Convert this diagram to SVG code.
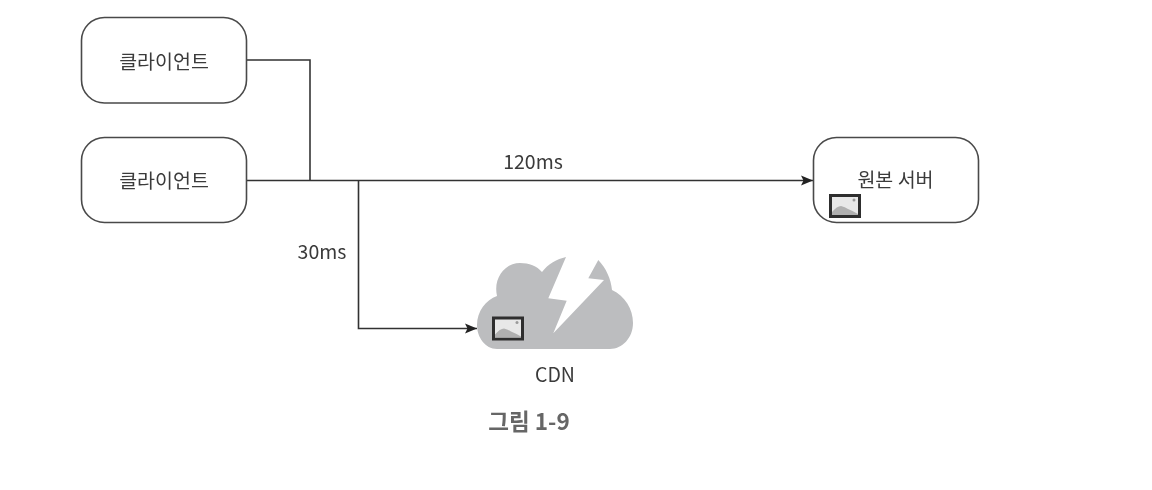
<svg xmlns="http://www.w3.org/2000/svg" width="1152" height="490" viewBox="0 0 1152 490">
<style>
.box{fill:#fff;stroke:#4a4a4a;stroke-width:1.6}
.wire{fill:none;stroke:#333;stroke-width:1.6}
text{font-family:"Noto Sans CJK KR","Noto Sans",sans-serif;fill:#3a3a3a;font-size:19.500px;text-anchor:middle}
.frame{fill:#e8e8e8;stroke:#2e2e2e;stroke-width:3}
.hill{fill:#b0b0b0}
.dot{fill:#9a9a9a}
</style>
<defs>
<marker id="arrow" markerUnits="userSpaceOnUse" markerWidth="13" markerHeight="11" refX="12" refY="5.500" orient="auto"><path d="M0,0.500 L12,5.500 L0,10.500 L2.500,5.500Z" fill="#222"/></marker>
<filter id="soft" x="-2%" y="-2%" width="104%" height="104%"><feGaussianBlur stdDeviation="0.45"/></filter>
<symbol id="pic" viewBox="0 0 32 24" overflow="visible">
<rect class="frame" x="1.500" y="1.500" width="29" height="21"/>
<path class="hill" d="M3,21 L3,18 Q8,12 12,12 Q16,13 19,15 Q24,17 29,20 L29,21Z"/>
<circle class="dot" cx="25" cy="6" r="1.500"/>
</symbol>
</defs>
<rect width="1152" height="490" fill="#fff"/>
<g filter="url(#soft)">
<g id="connectors">
<path class="wire" d="M247,60 H310 V180.500"/>
<path class="wire" d="M247,180.500 H813" marker-end="url(#arrow)"/>
<path class="wire" d="M358.500,180.500 V328.500 H477" marker-end="url(#arrow)"/>
</g>
<g id="client-1"><rect class="box" x="81.500" y="17.500" width="165" height="85.500" rx="23"/><text x="164" y="69">클라이언트</text></g>
<g id="client-2"><rect class="box" x="81.500" y="137.500" width="165" height="85" rx="23"/><text x="164" y="188">클라이언트</text></g>
<g id="origin"><rect class="box" x="813.500" y="137.500" width="165" height="85" rx="23"/><text x="895.500" y="187">원본 서버</text><use href="#pic" x="829" y="194" width="32" height="24"/></g>
<g id="cdn">
<path fill="#bcbdbf" d="M497,349 C485,349 477,337 477,325 C477,311 486,300 497,296 C493,278 505,263 520,263 C529,263 537,266 542,272 C548,264 557,259 566,257 L548.300,298.300 L566.700,300.700 L553.300,333.300 L604,280 L588.300,278.300 L598.300,260 C606,268 611,279 612,290 C625,296 633,309 633,323 C633,338 622,349 610,349Z"/>
<use href="#pic" x="492" y="316.500" width="32" height="24"/>
<text x="555" y="382">CDN</text>
</g>
<text x="533" y="169">120ms</text>
<text x="322" y="259">30ms</text>
<text x="529" y="430" style="font-size:22.500px;font-weight:700;fill:#666">그림 1-9</text>
</g>
</svg>
